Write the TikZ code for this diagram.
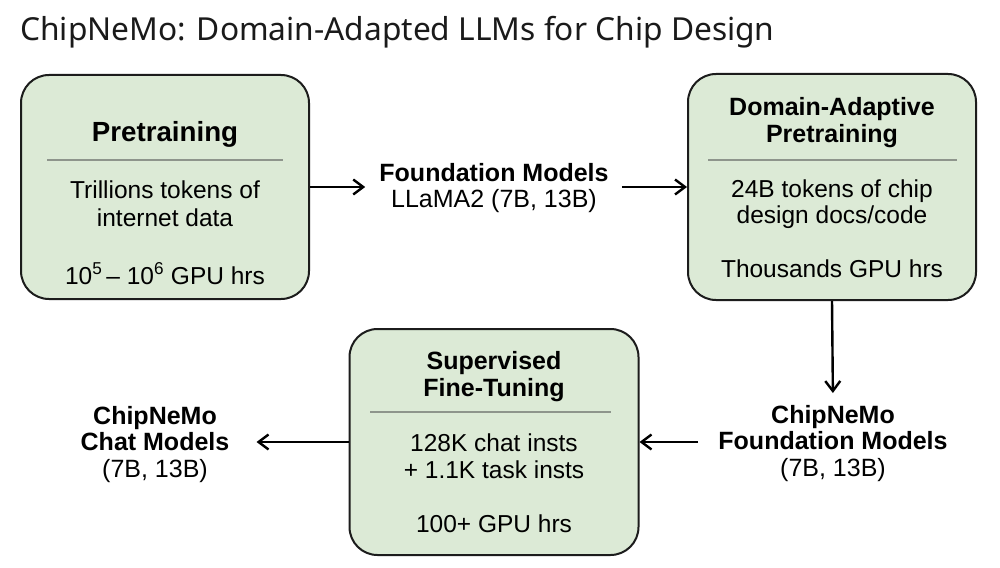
\documentclass[tikz,border=0pt]{standalone}
\usepackage{fontspec}
\setmainfont{Liberation Sans}
\newfontfamily\titlefont{Noto Sans}
\usetikzlibrary{arrows.meta}
\definecolor{boxfill}{HTML}{DCEAD6}
\definecolor{boxline}{HTML}{1C1C1C}
\definecolor{sepline}{HTML}{8E958C}
\definecolor{titlecol}{HTML}{1A1A1A}
\tikzset{
  stage/.style={draw=boxline, line width=2pt, fill=boxfill, rounded corners=28pt, inner sep=0pt},
  head/.style={anchor=base, inner sep=0pt, font=\bfseries\fontsize{25}{27}\selectfont},
  bigHead/.style={anchor=base, inner sep=0pt, font=\bfseries\fontsize{27.7}{30}\selectfont},
  body/.style={anchor=base, inner sep=0pt, font=\fontsize{24.5}{27}\selectfont},
  label/.style={anchor=north, inner sep=0pt, align=center, font=\fontsize{25}{26.5}\selectfont},
  sep/.style={draw=sepline, line width=1.5pt},
  flow/.style={draw=black, line width=2.4pt, -{Straight Barb[length=10pt,width=15pt]}},
}
\begin{document}
\begin{tikzpicture}[x=1pt,y=-1pt]
\useasboundingbox (0,0) rectangle (1000,567);
\fill[white] (0,0) rectangle (1000,567);

\node[anchor=base west, inner sep=0pt, text=titlecol, font=\titlefont\fontsize{31.7}{36}\selectfont] (title) at (20,41) {ChipNeMo: Domain-Adapted LLMs for Chip Design};

% boxes
\node[stage, minimum width=288pt, minimum height=224pt] (b1) at (165,187) {};
\node[stage, minimum width=288pt, minimum height=226pt] (b2) at (832,187) {};
\node[stage, minimum width=289pt, minimum height=226pt] (b3) at (494,442) {};

% box 1 text
\node[bigHead] (b1h) at (165,141) {Pretraining};
\draw[sep] (47,160) -- (283,160);
\node[body] (b1a) at (165,198) {Trillions tokens of};
\node[body] (b1b) at (165,226) {internet data};
\node[body] (b1c) at (165,284) {10\textsuperscript{5}\,– 10\textsuperscript{6} GPU hrs};

% box 2 text
\node[head] (b2h1) at (832,116) {Domain-Adaptive};
\node[head] (b2h2) at (832,142) {Pretraining};
\draw[sep] (708,160) -- (957,160);
\node[body] (b2a) at (832,197) {24B tokens of chip};
\node[body] (b2b) at (832,223) {design docs/code};
\node[body] (b2c) at (832,277) {Thousands GPU hrs};

% box 3 text
\node[head] (b3h1) at (494,369) {Supervised};
\node[head] (b3h2) at (494,396) {Fine-Tuning};
\draw[sep] (370,412) -- (611,412);
\node[body] (b3a) at (494,451) {128K chat insts};
\node[body] (b3b) at (494,478) {+ 1.1K task insts};
\node[body] (b3c) at (494,532) {100+ GPU hrs};

% labels
\node[label] (fm) at (494,163) {\textbf{Foundation Models}\\LLaMA2 (7B, 13B)};
\node[label] (cfm) at (833,405) {\textbf{ChipNeMo}\\\textbf{Foundation Models}\\(7B, 13B)};
\node[label] (chat) at (155,406) {\textbf{ChipNeMo}\\\textbf{Chat Models}\\(7B, 13B)};

% connectors
\draw[flow, shorten >=14pt] (b1.east) -- (b1.east -| fm.west);
\draw[flow, shorten <=13pt] (b2.west -| fm.east) -- (b2.west);
\draw[flow, shorten >=12pt] (b2.south) -- (cfm.north);
\draw[flow, shorten <=20pt] (b3.east -| cfm.west) -- (b3.east);
\draw[flow, shorten >=27pt] (b3.west) -- (b3.west -| chat.east);
\end{tikzpicture}
\end{document}
